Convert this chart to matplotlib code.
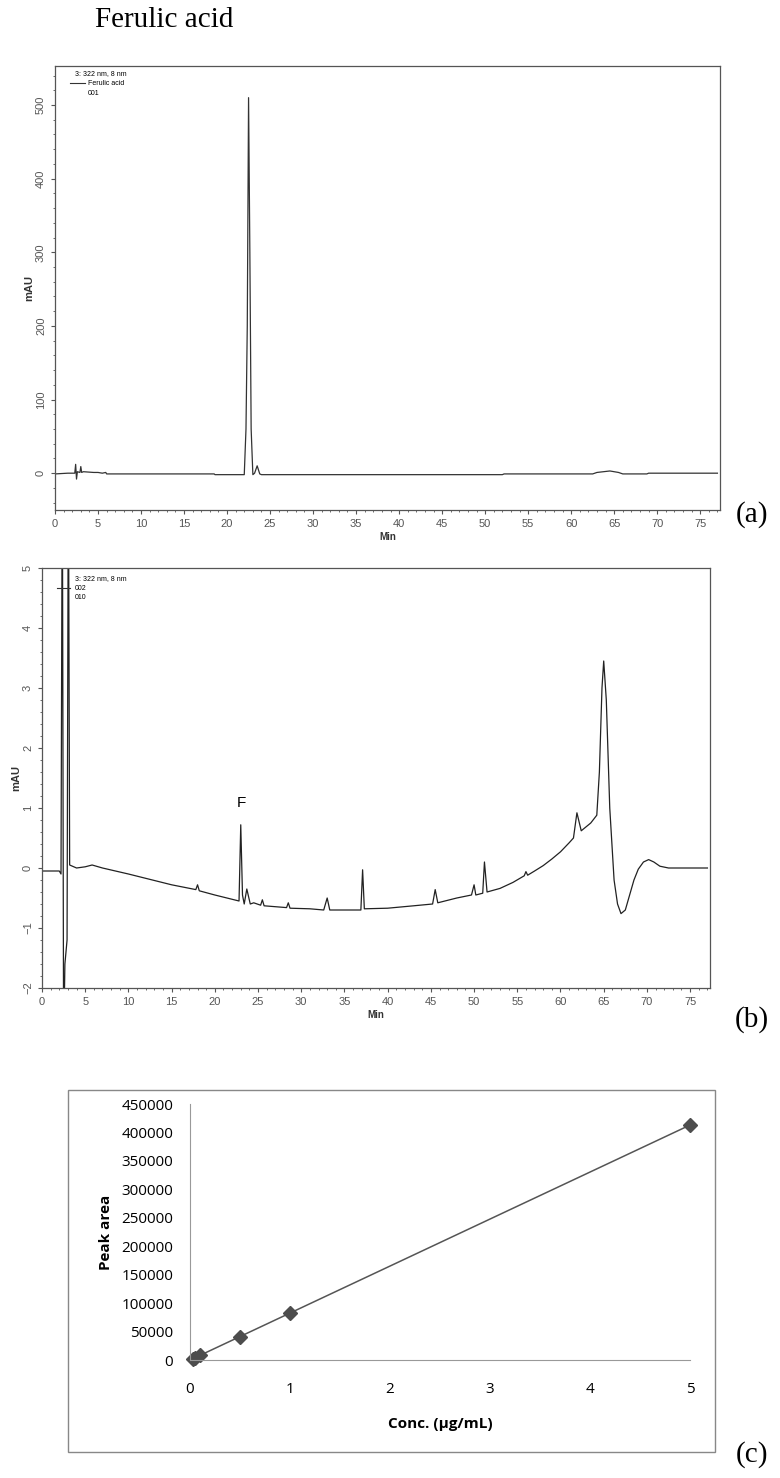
import matplotlib
matplotlib.use('Agg')
import matplotlib.pyplot as plt
from matplotlib.ticker import MultipleLocator
from matplotlib.patches import Rectangle
import numpy as np

# (a) ferulic acid standard, 322 nm
t_a = [0, 1.5, 2.3, 2.4, 2.5, 2.6, 2.9, 3.0, 3.1, 3.3, 4.5, 5.0, 5.5, 5.9, 6.0, 18.5, 18.6,
       22.0, 22.2, 22.35, 22.5, 22.65, 22.8, 23.0, 23.2, 23.5, 23.8, 24.0, 52.0, 52.2,
       62.5, 63.0, 64.5, 65.5, 66.0, 68.8, 69.0, 77]
v_a = [-1, 0, 0, 12, -8, 2, 1, 9, 1, 2, 1, 1, 0, 1, -1, -1, -2,
       -2, 60, 200, 510, 300, 60, -2, 0, 10, -1, -2, -2, -1,
       -1, 1, 3, 1, -1, -1, 0, 0]

# (b) sample, 322 nm
t_b = [0, 2.0, 2.2, 2.35, 2.5, 2.65, 2.9, 3.05, 3.2, 4.0, 5.0, 5.8, 7.0, 10, 15, 17.8, 18.0, 18.2,
       20, 22.8, 23.0, 23.2, 23.4, 23.7, 24.1, 24.5, 25.3, 25.5, 25.7, 28.3, 28.5, 28.7, 31.0,
       32.6, 33.0, 33.3, 36.9, 37.1, 37.3, 40, 43, 45.2, 45.5, 45.8, 48, 49.7, 50.0, 50.2, 51.0,
       51.2, 51.5, 53, 54.5, 55.8, 56.0, 56.2, 57, 58, 59, 60, 61, 61.5, 61.9, 62.4, 63.5, 64.2,
       64.5, 64.8, 65.0, 65.3, 65.7, 66.2, 66.6, 67.0, 67.5, 68.0, 68.5, 69.0, 69.6, 70.2, 70.8,
       71.5, 72.5, 77]
v_b = [-0.05, -0.05, -0.1, 7, -3, -1.6, -1.2, 7, 0.05, 0.0, 0.02, 0.05, 0.0, -0.1, -0.28, -0.36,
       -0.28, -0.38, -0.45, -0.55, 0.72, -0.45, -0.6, -0.35, -0.6, -0.58, -0.62, -0.53, -0.63,
       -0.66, -0.58, -0.67, -0.68, -0.7, -0.5, -0.7, -0.7, -0.03, -0.68, -0.67, -0.63, -0.6,
       -0.36, -0.58, -0.5, -0.45, -0.28, -0.45, -0.42, 0.1, -0.4, -0.34, -0.24, -0.13, -0.06,
       -0.12, -0.05, 0.04, 0.15, 0.27, 0.42, 0.5, 0.92, 0.62, 0.75, 0.88, 1.6, 3.0, 3.45, 2.8,
       1.0, -0.2, -0.6, -0.76, -0.7, -0.45, -0.2, -0.02, 0.1, 0.14, 0.1, 0.03, 0.0, 0.0]

# (c) calibration curve
conc = [0.025, 0.05, 0.1, 0.5, 1, 5]
area = [2000, 4100, 8200, 41000, 82500, 413000]

plt.rcParams['font.family'] = ['Liberation Sans', 'DejaVu Sans']

fig = plt.figure(figsize=(7.8, 14.78), dpi=100)

fig.text(95 / 780, 1 - 20 / 1478, 'Ferulic acid', family='Liberation Serif', fontsize=21,
         va='center', ha='left')


def style_chrom(ax):
    for s in ax.spines.values():
        s.set_color('#555555')
        s.set_linewidth(0.9)
    ax.tick_params(which='both', direction='out', colors='#555555', labelsize=8,
                   labelcolor='#555555')
    ax.tick_params(which='major', length=3)
    ax.tick_params(which='minor', length=1.5)
    ax.xaxis.set_major_locator(MultipleLocator(5))
    ax.xaxis.set_minor_locator(MultipleLocator(1))
    for lab in ax.get_yticklabels():
        lab.set_rotation(90)
        lab.set_va('center')
    ax.set_xlabel('Min', fontsize=7, fontweight='bold', color='#333333', labelpad=2)
    ax.set_ylabel('mAU', fontsize=8, fontweight='bold', color='#333333', labelpad=1)


# panel a
ax1 = fig.add_axes([55 / 780, 1 - 510 / 1478, 665 / 780, 444 / 1478])
ax1.plot(t_a, v_a, color='#333333', lw=0.9)
ax1.set_xlim(0, 77.3)
ax1.set_ylim(-50, 553)
ax1.yaxis.set_major_locator(MultipleLocator(100))
ax1.yaxis.set_minor_locator(MultipleLocator(20))
style_chrom(ax1)
ax1.text(0.03, 0.984, '3: 322 nm, 8 nm', transform=ax1.transAxes, fontsize=5, va='center')
ax1.plot([0.022, 0.045], [0.961, 0.961], transform=ax1.transAxes, color='#333333', lw=0.8)
ax1.text(0.05, 0.961, 'Ferulic acid', transform=ax1.transAxes, fontsize=5, va='center')
ax1.text(0.05, 0.938, '001', transform=ax1.transAxes, fontsize=5, va='center')
fig.text(752 / 780, 1 - 515 / 1478, '(a)', family='Liberation Serif', fontsize=21,
         ha='center', va='center')

# panel b
ax2 = fig.add_axes([42 / 780, 1 - 988 / 1478, 668 / 780, 420 / 1478])
ax2.plot(t_b, v_b, color='#222222', lw=0.9)
ax2.set_xlim(0, 77.3)
ax2.set_ylim(-2, 5)
ax2.yaxis.set_major_locator(MultipleLocator(1))
ax2.yaxis.set_minor_locator(MultipleLocator(0.2))
style_chrom(ax2)
ax2.text(0.049, 0.976, '3: 322 nm, 8 nm', transform=ax2.transAxes, fontsize=5, va='center')
ax2.plot([0.022, 0.042], [0.952, 0.952], transform=ax2.transAxes, color='#333333', lw=0.8)
ax2.text(0.049, 0.952, '002', transform=ax2.transAxes, fontsize=5, va='center')
ax2.text(0.049, 0.929, '010', transform=ax2.transAxes, fontsize=5, va='center')
ax2.text(23.1, 1.08, 'F', fontsize=11, ha='center', va='center')
fig.text(752 / 780, 1 - 1020 / 1478, '(b)', family='Liberation Serif', fontsize=21,
         ha='center', va='center')

# panel c outer frame
fig.patches.append(Rectangle((68 / 780, 1 - 1452 / 1478), 647 / 780, 362 / 1478,
                             transform=fig.transFigure, fill=False, edgecolor='#888888', lw=1))

ax3 = fig.add_axes([190 / 780, 1 - 1360 / 1478, 500 / 780, 256 / 1478])
fit = np.polyfit(conc, area, 1)
xs = np.array([0, 5])
ax3.plot(xs, np.polyval(fit, xs), color='#555555', lw=1.1)
ax3.plot(conc, area, 'D', color='#4d4d4d', ms=7, clip_on=False)
ax3.set_xlim(0, 5)
ax3.set_ylim(0, 450000)
ax3.set_yticks(np.arange(0, 450001, 50000))
ax3.set_xticks(range(6))
for s in ['top', 'right']:
    ax3.spines[s].set_visible(False)
ax3.spines['left'].set_color('#999999')
ax3.spines['bottom'].set_color('#999999')
ax3.tick_params(length=0, labelsize=11, pad=12)
for lab in ax3.get_xticklabels() + ax3.get_yticklabels():
    lab.set_family(['Open Sans', 'DejaVu Sans'])
ax3.tick_params(axis='x', pad=16)
ax3.set_xlabel('Conc. (µg/mL)', fontsize=11, fontweight='bold', family=['Open Sans', 'DejaVu Sans'],
               labelpad=14)
ax3.set_ylabel('Peak area', fontsize=11, fontweight='bold', family=['Open Sans', 'DejaVu Sans'],
               labelpad=6)
fig.text(752 / 780, 1 - 1455 / 1478, '(c)', family='Liberation Serif', fontsize=21,
         ha='center', va='center')

fig.savefig('out.png', dpi=100)
